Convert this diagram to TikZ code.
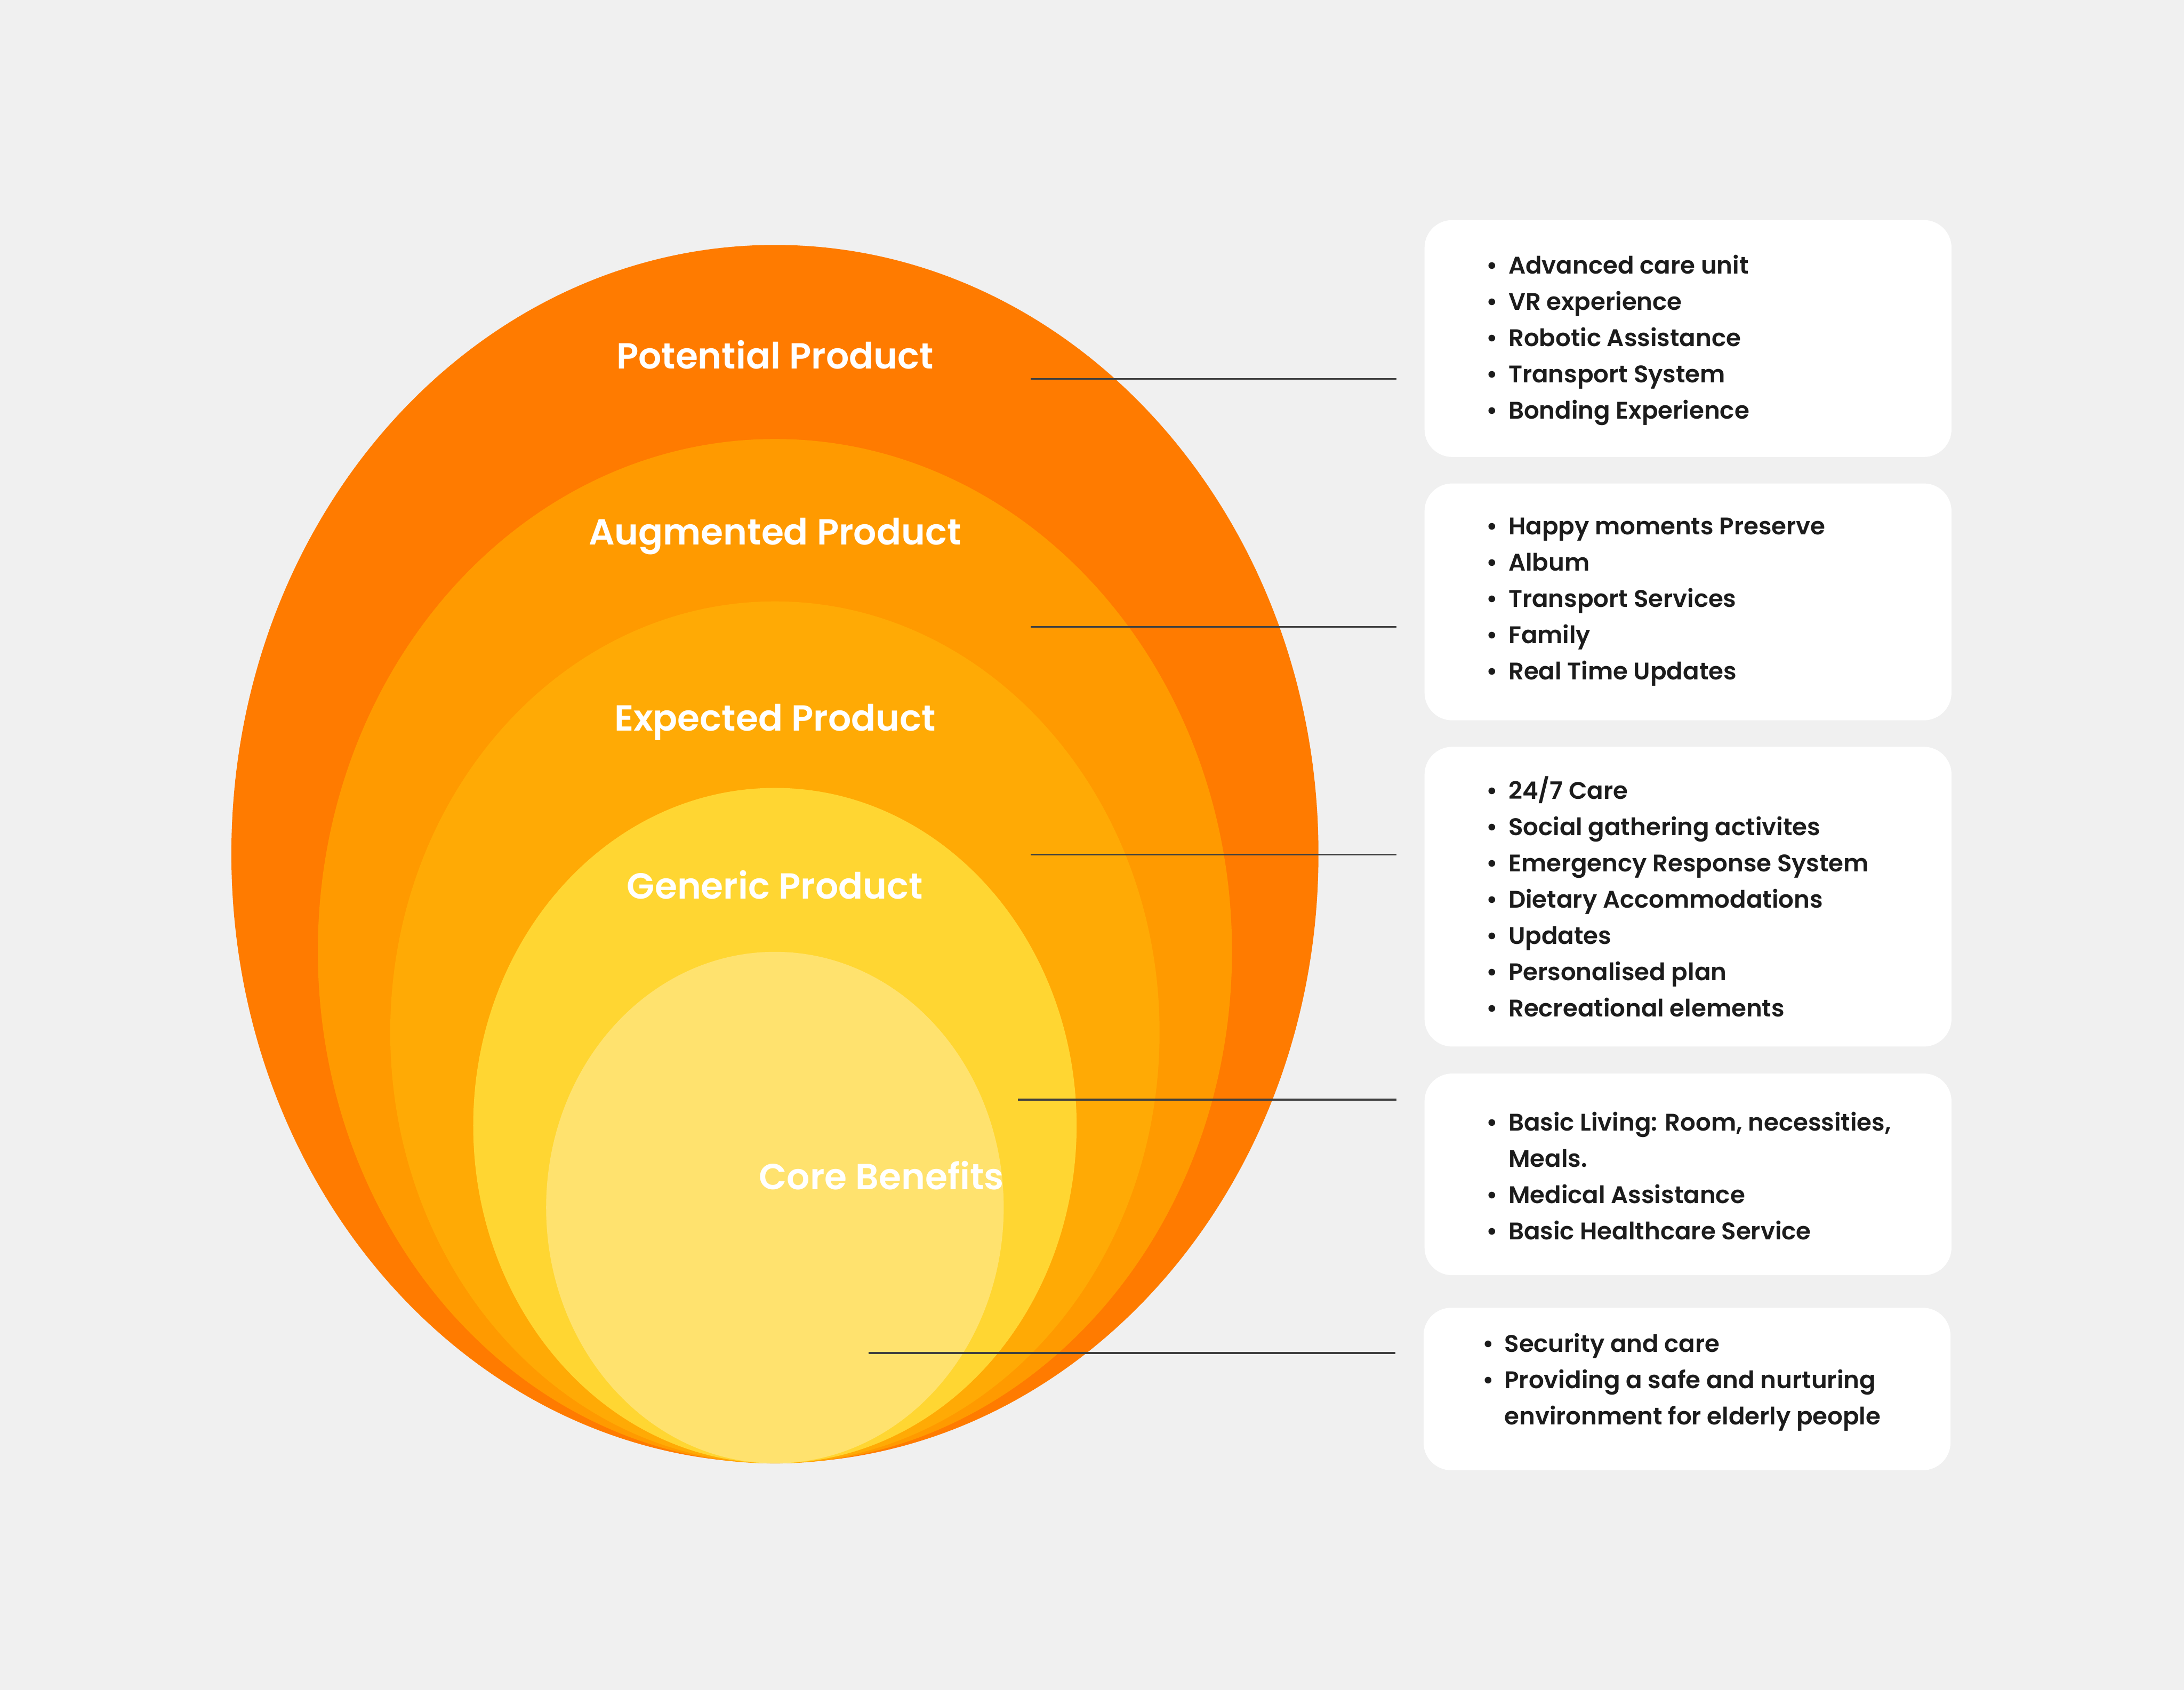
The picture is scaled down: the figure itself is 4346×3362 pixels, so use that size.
\documentclass[tikz,border=0pt]{standalone}
\usepackage{fontspec}
\setmainfont{Poppins}[UprightFont=* SemiBold, BoldFont=* Bold]
\usepackage{xcolor}
\usepackage{tikz}

\definecolor{paper}{HTML}{F0F0F0}
\definecolor{potential}{HTML}{FF7B00}
\definecolor{augmented}{HTML}{FF9A00}
\definecolor{expected}{HTML}{FFAA05}
\definecolor{generic}{HTML}{FFD632}
\definecolor{corefill}{HTML}{FFE26E}
\definecolor{leadgray}{HTML}{404040}
\definecolor{inktext}{HTML}{1C1C1C}

\newcommand{\itm}[1]{\makebox[0.44cm][l]{\textbullet}#1}

\begin{document}
\begin{tikzpicture}[x=0.01cm, y=-0.01cm,
  layer/.style={text=white, anchor=base, inner sep=0pt, font=\fontsize{20.5}{24}\selectfont},
  infobox/.style={fill=white, rounded corners=0.55cm, minimum width=10.48cm, inner sep=0pt},
  itemlist/.style={anchor=west, align=left, inner sep=0pt, text=inktext, font=\fontsize{13.6}{20.5}\selectfont},
  leader/.style={leadgray, line width=1.05pt, shorten >=0.55cm}]
  % Background
  \fill[paper] (0,0) rectangle (4346,3362);
  % Nested layers, outermost first
  \fill[potential] (1542,1699) ellipse (10.81cm and 12.11cm);
  \fill[augmented] (1542,1892.5) ellipse (9.09cm and 10.185cm);
  \fill[expected] (1542,2054) ellipse (7.65cm and 8.57cm);
  \fill[generic] (1542,2239.5) ellipse (6.0cm and 6.715cm);
  \fill[corefill] (1542,2402.5) ellipse (4.55cm and 5.085cm);
  % Layer names
  \node[layer] (potname) at (1542,734) {Potential Product};
  \node[layer] (augname) at (1542,1084) {Augmented Product};
  \node[layer] (expname) at (1542,1454) {Expected Product};
  \node[layer] (genname) at (1542,1788) {Generic Product};
  \node[layer] (corename) at (1754,2367) {Core Benefits};
  % White boxes on the right
  \node[infobox, minimum height=4.71cm] (box1) at (3359,673.5) {};
  \node[infobox, minimum height=4.71cm] (box2) at (3359,1197.5) {};
  \node[infobox, minimum height=5.96cm] (box3) at (3359,1784) {};
  \node[infobox, minimum height=4.01cm] (box4) at (3359,2336.5) {};
  \node[infobox, minimum height=3.23cm] (box5) at (3357,2763.5) {};
  % Lists
  \node[itemlist, yshift=-0.03cm] (list1) at ([xshift=1.23cm]box1.west) {\itm{Advanced care unit}\\ \itm{VR experience}\\ \itm{Robotic Assistance}\\ \itm{Transport System}\\ \itm{Bonding Experience}};
  \node[itemlist] (list2) at ([xshift=1.23cm]box2.west) {\itm{Happy moments Preserve}\\ \itm{Album}\\ \itm{Transport Services}\\ \itm{Family}\\ \itm{Real Time Updates}};
  \node[itemlist] (list3) at ([xshift=1.23cm]box3.west) {\itm{24/7 Care}\\ \itm{Social gathering activites}\\ \itm{Emergency Response System}\\ \itm{Dietary Accommodations}\\ \itm{Updates}\\ \itm{Personalised plan}\\ \itm{Recreational elements}};
  \node[itemlist, yshift=-0.03cm] (list4) at ([xshift=1.23cm]box4.west) {\itm{Basic Living: Room, necessities,}\\ \hspace*{0.44cm}Meals.\\ \itm{Medical Assistance}\\ \itm{Basic Healthcare Service}};
  \node[itemlist, yshift=0.14cm] (list5) at ([xshift=1.17cm]box5.west) {\itm{Security and care}\\ \itm{Providing a safe and nurturing}\\ \hspace*{0.44cm}environment for elderly people};
  % Leader lines
  \coordinate (tip1) at (2051,754);
  \coordinate (tip2) at (2051,1247);
  \coordinate (tip3) at (2051,1700);
  \coordinate (tip4) at (2026,2188);
  \coordinate (tip5) at (1728,2692);
  \draw[leader] (tip1) -- (tip1 -| box1.west);
  \draw[leader] (tip2) -- (tip2 -| box2.west);
  \draw[leader] (tip3) -- (tip3 -| box3.west);
  \draw[leader] (tip4) -- (tip4 -| box4.west);
  \draw[leader] (tip5) -- (tip5 -| box5.west);
\end{tikzpicture}
\end{document}
